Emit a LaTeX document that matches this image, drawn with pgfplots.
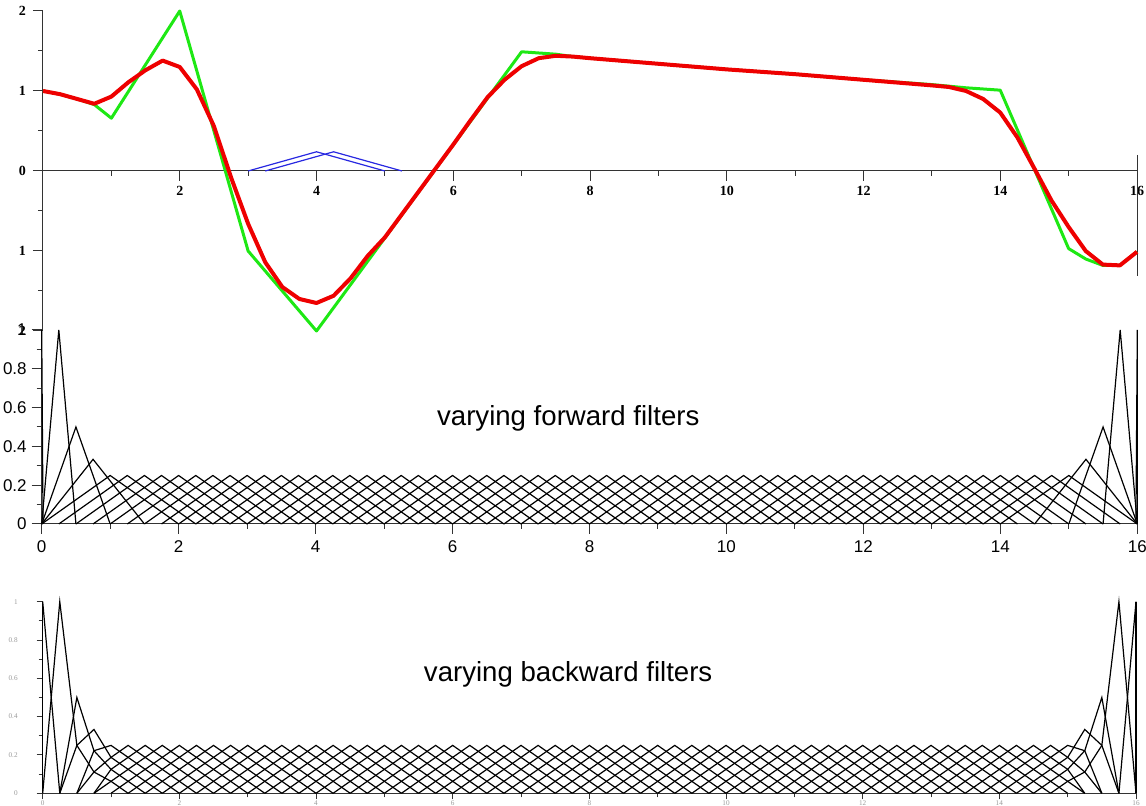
\documentclass[border=0pt]{standalone}
\usepackage{fontspec}
\setmainfont{Liberation Serif}
\newfontfamily\arialfont{Liberation Sans}
\usepackage{pgfplots}
\pgfplotsset{compat=1.18}

\definecolor{sigred}{RGB}{238,0,0}
\definecolor{siggreen}{RGB}{30,232,20}
\definecolor{filtblue}{RGB}{40,40,225}

\pgfplotsset{
  hat/.style={black, line width=0.6pt, line join=miter},
  panel/.style={
    scale only axis, clip=false,
    xmin=0, xmax=16,
    axis lines=middle,
    axis line style={-, black!80, line width=0.5pt},
    every inner x axis line/.append style={-},
    every inner y axis line/.append style={-},
    tick align=outside,
    tick style={black!80, line width=0.5pt},
    hide obscured x ticks=false, hide obscured y ticks=false,
  },
}

% interior filters, identical in both filter banks (centres 1.75 ... 14.25)
\newcommand{\interiorhats}{%
\addplot[hat] coordinates {(0.75,0)(1.75,0.25)(2.75,0)};
\addplot[hat] coordinates {(1,0)(2,0.25)(3,0)};
\addplot[hat] coordinates {(1.25,0)(2.25,0.25)(3.25,0)};
\addplot[hat] coordinates {(1.5,0)(2.5,0.25)(3.5,0)};
\addplot[hat] coordinates {(1.75,0)(2.75,0.25)(3.75,0)};
\addplot[hat] coordinates {(2,0)(3,0.25)(4,0)};
\addplot[hat] coordinates {(2.25,0)(3.25,0.25)(4.25,0)};
\addplot[hat] coordinates {(2.5,0)(3.5,0.25)(4.5,0)};
\addplot[hat] coordinates {(2.75,0)(3.75,0.25)(4.75,0)};
\addplot[hat] coordinates {(3,0)(4,0.25)(5,0)};
\addplot[hat] coordinates {(3.25,0)(4.25,0.25)(5.25,0)};
\addplot[hat] coordinates {(3.5,0)(4.5,0.25)(5.5,0)};
\addplot[hat] coordinates {(3.75,0)(4.75,0.25)(5.75,0)};
\addplot[hat] coordinates {(4,0)(5,0.25)(6,0)};
\addplot[hat] coordinates {(4.25,0)(5.25,0.25)(6.25,0)};
\addplot[hat] coordinates {(4.5,0)(5.5,0.25)(6.5,0)};
\addplot[hat] coordinates {(4.75,0)(5.75,0.25)(6.75,0)};
\addplot[hat] coordinates {(5,0)(6,0.25)(7,0)};
\addplot[hat] coordinates {(5.25,0)(6.25,0.25)(7.25,0)};
\addplot[hat] coordinates {(5.5,0)(6.5,0.25)(7.5,0)};
\addplot[hat] coordinates {(5.75,0)(6.75,0.25)(7.75,0)};
\addplot[hat] coordinates {(6,0)(7,0.25)(8,0)};
\addplot[hat] coordinates {(6.25,0)(7.25,0.25)(8.25,0)};
\addplot[hat] coordinates {(6.5,0)(7.5,0.25)(8.5,0)};
\addplot[hat] coordinates {(6.75,0)(7.75,0.25)(8.75,0)};
\addplot[hat] coordinates {(7,0)(8,0.25)(9,0)};
\addplot[hat] coordinates {(7.25,0)(8.25,0.25)(9.25,0)};
\addplot[hat] coordinates {(7.5,0)(8.5,0.25)(9.5,0)};
\addplot[hat] coordinates {(7.75,0)(8.75,0.25)(9.75,0)};
\addplot[hat] coordinates {(8,0)(9,0.25)(10,0)};
\addplot[hat] coordinates {(8.25,0)(9.25,0.25)(10.25,0)};
\addplot[hat] coordinates {(8.5,0)(9.5,0.25)(10.5,0)};
\addplot[hat] coordinates {(8.75,0)(9.75,0.25)(10.75,0)};
\addplot[hat] coordinates {(9,0)(10,0.25)(11,0)};
\addplot[hat] coordinates {(9.25,0)(10.25,0.25)(11.25,0)};
\addplot[hat] coordinates {(9.5,0)(10.5,0.25)(11.5,0)};
\addplot[hat] coordinates {(9.75,0)(10.75,0.25)(11.75,0)};
\addplot[hat] coordinates {(10,0)(11,0.25)(12,0)};
\addplot[hat] coordinates {(10.25,0)(11.25,0.25)(12.25,0)};
\addplot[hat] coordinates {(10.5,0)(11.5,0.25)(12.5,0)};
\addplot[hat] coordinates {(10.75,0)(11.75,0.25)(12.75,0)};
\addplot[hat] coordinates {(11,0)(12,0.25)(13,0)};
\addplot[hat] coordinates {(11.25,0)(12.25,0.25)(13.25,0)};
\addplot[hat] coordinates {(11.5,0)(12.5,0.25)(13.5,0)};
\addplot[hat] coordinates {(11.75,0)(12.75,0.25)(13.75,0)};
\addplot[hat] coordinates {(12,0)(13,0.25)(14,0)};
\addplot[hat] coordinates {(12.25,0)(13.25,0.25)(14.25,0)};
\addplot[hat] coordinates {(12.5,0)(13.5,0.25)(14.5,0)};
\addplot[hat] coordinates {(12.75,0)(13.75,0.25)(14.75,0)};
\addplot[hat] coordinates {(13,0)(14,0.25)(15,0)};
\addplot[hat] coordinates {(13.25,0)(14.25,0.25)(15.25,0)};
}

\begin{document}
\begin{tikzpicture}
\useasboundingbox (0,0) rectangle (573pt,403pt);

% ---------- signal and its smoothed version ----------
\begin{axis}[panel,
  at={(21.5pt,237.5pt)}, anchor=south west,
  width=547pt, height=160pt,
  ymin=-2, ymax=2,
  major tick length=5pt, minor tick length=2.5pt,
  xtick={2,4,6,8,10,12,14,16},
  xticklabels={2,4,6,8,10,12,14,16},
  minor xtick={1,3,5,7,9,11,13,15},
  ytick={-2,-1,0,1,2}, yticklabels={2,1,0,1,2},
  minor ytick={-1.5,-0.5,0.5,1.5},
  ticklabel style={font=\fontsize{7}{8}\selectfont\bfseries},
  xticklabel style={yshift=1pt},
]
\addplot[filtblue, line width=0.6pt] coordinates {(3,0)(4,0.24)(5,0)};
\addplot[filtblue, line width=0.6pt] coordinates {(3.25,0)(4.25,0.24)(5.25,0)};
\addplot[black!80, line width=0.5pt] coordinates {(16,0.2)(16,-1.31)};
\addplot[siggreen, line width=1.5pt, line join=round] coordinates {
  (0,1)(0.25,0.96)(0.5,0.9)(0.75,0.83)(1,0.66)(2,2)(3,-1)(4,-2)(7,1.49)
  (7.5,1.46)(7.75,1.43)(8,1.41)(9,1.34)(10,1.27)(11,1.21)(12,1.14)(13,1.08)
  (13.5,1.04)(14,1.01)(15,-0.97)(15.25,-1.10)(15.5,-1.18)(15.75,-1.18)(16,-1.01)};
\addplot[sigred, line width=2pt, line join=round] coordinates {
  (0,1.00)(0.25,0.96)(0.5,0.90)(0.75,0.84)(1,0.93)(1.25,1.11)(1.5,1.26)
  (1.75,1.38)(2,1.30)(2.25,1.02)(2.5,0.56)(2.75,-0.08)(3,-0.66)(3.25,-1.14)
  (3.5,-1.45)(3.75,-1.60)(4,-1.65)(4.25,-1.56)(4.5,-1.34)(4.75,-1.06)
  (5,-0.83)(5.25,-0.54)(5.5,-0.25)(5.75,0.04)(6,0.33)(6.25,0.63)(6.5,0.92)
  (6.75,1.14)(7,1.31)(7.25,1.41)(7.5,1.44)(7.75,1.43)(8,1.41)(9,1.34)
  (10,1.27)(11,1.21)(12,1.14)(13,1.07)(13.25,1.05)(13.5,1.00)(13.75,0.90)
  (14,0.73)(14.25,0.42)(14.5,0.03)(14.75,-0.37)(15,-0.70)(15.25,-1.00)
  (15.5,-1.17)(15.75,-1.18)(16,-1.01)};
\end{axis}

% ---------- forward filter bank ----------
\begin{axis}[panel,
  at={(20.85pt,141pt)}, anchor=south west,
  width=547.8pt, height=97pt,
  ymin=0, ymax=1,
  major tick length=5pt, minor tick length=2.5pt,
  xtick={0,2,4,6,8,10,12,14,16},
  xticklabels={0,2,4,6,8,10,12,14,16},
  minor xtick={1,3,5,7,9,11,13,15},
  ytick={0,0.2,0.4,0.6,0.8,1},
  yticklabels={0,0.2,0.4,0.6,0.8,1},
  minor ytick={0.1,0.3,0.5,0.7,0.9},
  ticklabel style={font=\arialfont\fontsize{8.5}{9}\selectfont},
  yticklabel style={xshift=1pt},
]
\addplot[hat] coordinates {(0,1)(0.02,0)};
\addplot[hat] coordinates {(0,0)(0.25,1)(0.5,0)};
\addplot[hat] coordinates {(0,0)(0.5,0.5)(1,0)};
\addplot[hat] coordinates {(0,0)(0.75,0.3333)(1.5,0)};
\addplot[hat] coordinates {(0,0)(1,0.25)(2,0)};
\addplot[hat] coordinates {(0.25,0)(1.25,0.25)(2.25,0)};
\addplot[hat] coordinates {(0.5,0)(1.5,0.25)(2.5,0)};
\interiorhats
\addplot[hat] coordinates {(13.5,0)(14.5,0.25)(15.5,0)};
\addplot[hat] coordinates {(13.75,0)(14.75,0.25)(15.75,0)};
\addplot[hat] coordinates {(14,0)(15,0.25)(16,0)};
\addplot[hat] coordinates {(14.5,0)(15.25,0.3333)(16,0)};
\addplot[hat] coordinates {(15,0)(15.5,0.5)(16,0)};
\addplot[hat] coordinates {(15.5,0)(15.75,1)(16,0)};
\addplot[hat] coordinates {(16,1)(15.98,0)};
\addplot[hat] coordinates {(16,0)(16,1)};
\node[font=\arialfont\fontsize{13.8}{16}\selectfont] at (axis cs:7.69,0.546) {varying forward filters};
\end{axis}

% ---------- backward filter bank ----------
\begin{axis}[panel,
  at={(21.35pt,6.35pt)}, anchor=south west,
  width=546.65pt, height=95.8pt,
  ymin=0, ymax=1,
  major tick length=3pt, minor tick length=2pt,
  xtick={0,2,4,6,8,10,12,14,16},
  xticklabels={0,2,4,6,8,10,12,14,16},
  minor xtick={1,3,5,7,9,11,13,15},
  ytick={0,0.2,0.4,0.6,0.8,1},
  yticklabels={0,0.2,0.4,0.6,0.8,1},
  minor ytick={0.1,0.3,0.5,0.7,0.9},
  ticklabel style={font=\fontsize{3.6}{4}\selectfont, text=black!40},
  yticklabel style={xshift=-6pt},
  xticklabel style={inner sep=0.3pt},
]
\addplot[hat] coordinates {(0,0)(0,1)};
\addplot[hat] coordinates {(0,1)(0.25,0)};
\addplot[hat] coordinates {(0,0)(0.25,1)(0.5,0.25)(0.75,0.1111)(1,0.0625)(1.25,0)};
\addplot[hat] coordinates {(0.25,0)(0.5,0.5)(0.75,0.2222)(1,0.125)(1.25,0.0625)(1.5,0)};
\addplot[hat] coordinates {(0.25,0)(0.5,0.25)(0.75,0.3333)(1,0.1875)(1.25,0.125)(1.5,0.0625)(1.75,0)};
\addplot[hat] coordinates {(0.5,0)(0.75,0.2222)(1,0.25)(1.25,0.1875)(1.5,0.125)(1.75,0.0625)(2,0)};
\addplot[hat] coordinates {(0.5,0)(0.75,0.1111)(1,0.1875)(1.25,0.25)(1.5,0.1875)(1.75,0.125)(2,0.0625)(2.25,0)};
\addplot[hat] coordinates {(0.75,0)(1,0.125)(1.25,0.1875)(1.5,0.25)(1.75,0.1875)(2,0.125)(2.25,0.0625)(2.5,0)};
\interiorhats
\addplot[hat] coordinates {(15.25,0)(15,0.125)(14.75,0.1875)(14.5,0.25)(14.25,0.1875)(14,0.125)(13.75,0.0625)(13.5,0)};
\addplot[hat] coordinates {(15.5,0)(15.25,0.1111)(15,0.1875)(14.75,0.25)(14.5,0.1875)(14.25,0.125)(14,0.0625)(13.75,0)};
\addplot[hat] coordinates {(15.5,0)(15.25,0.2222)(15,0.25)(14.75,0.1875)(14.5,0.125)(14.25,0.0625)(14,0)};
\addplot[hat] coordinates {(15.75,0)(15.5,0.25)(15.25,0.3333)(15,0.1875)(14.75,0.125)(14.5,0.0625)(14.25,0)};
\addplot[hat] coordinates {(15.75,0)(15.5,0.5)(15.25,0.2222)(15,0.125)(14.75,0.0625)(14.5,0)};
\addplot[hat] coordinates {(16,0)(15.75,1)(15.5,0.25)(15.25,0.1111)(15,0.0625)(14.75,0)};
\addplot[hat] coordinates {(16,1)(15.75,0)};
\addplot[hat] coordinates {(16,0)(16,1)};
\node[font=\arialfont\fontsize{13.8}{16}\selectfont] at (axis cs:7.69,0.623) {varying backward filters};
\end{axis}
\end{tikzpicture}
\end{document}
